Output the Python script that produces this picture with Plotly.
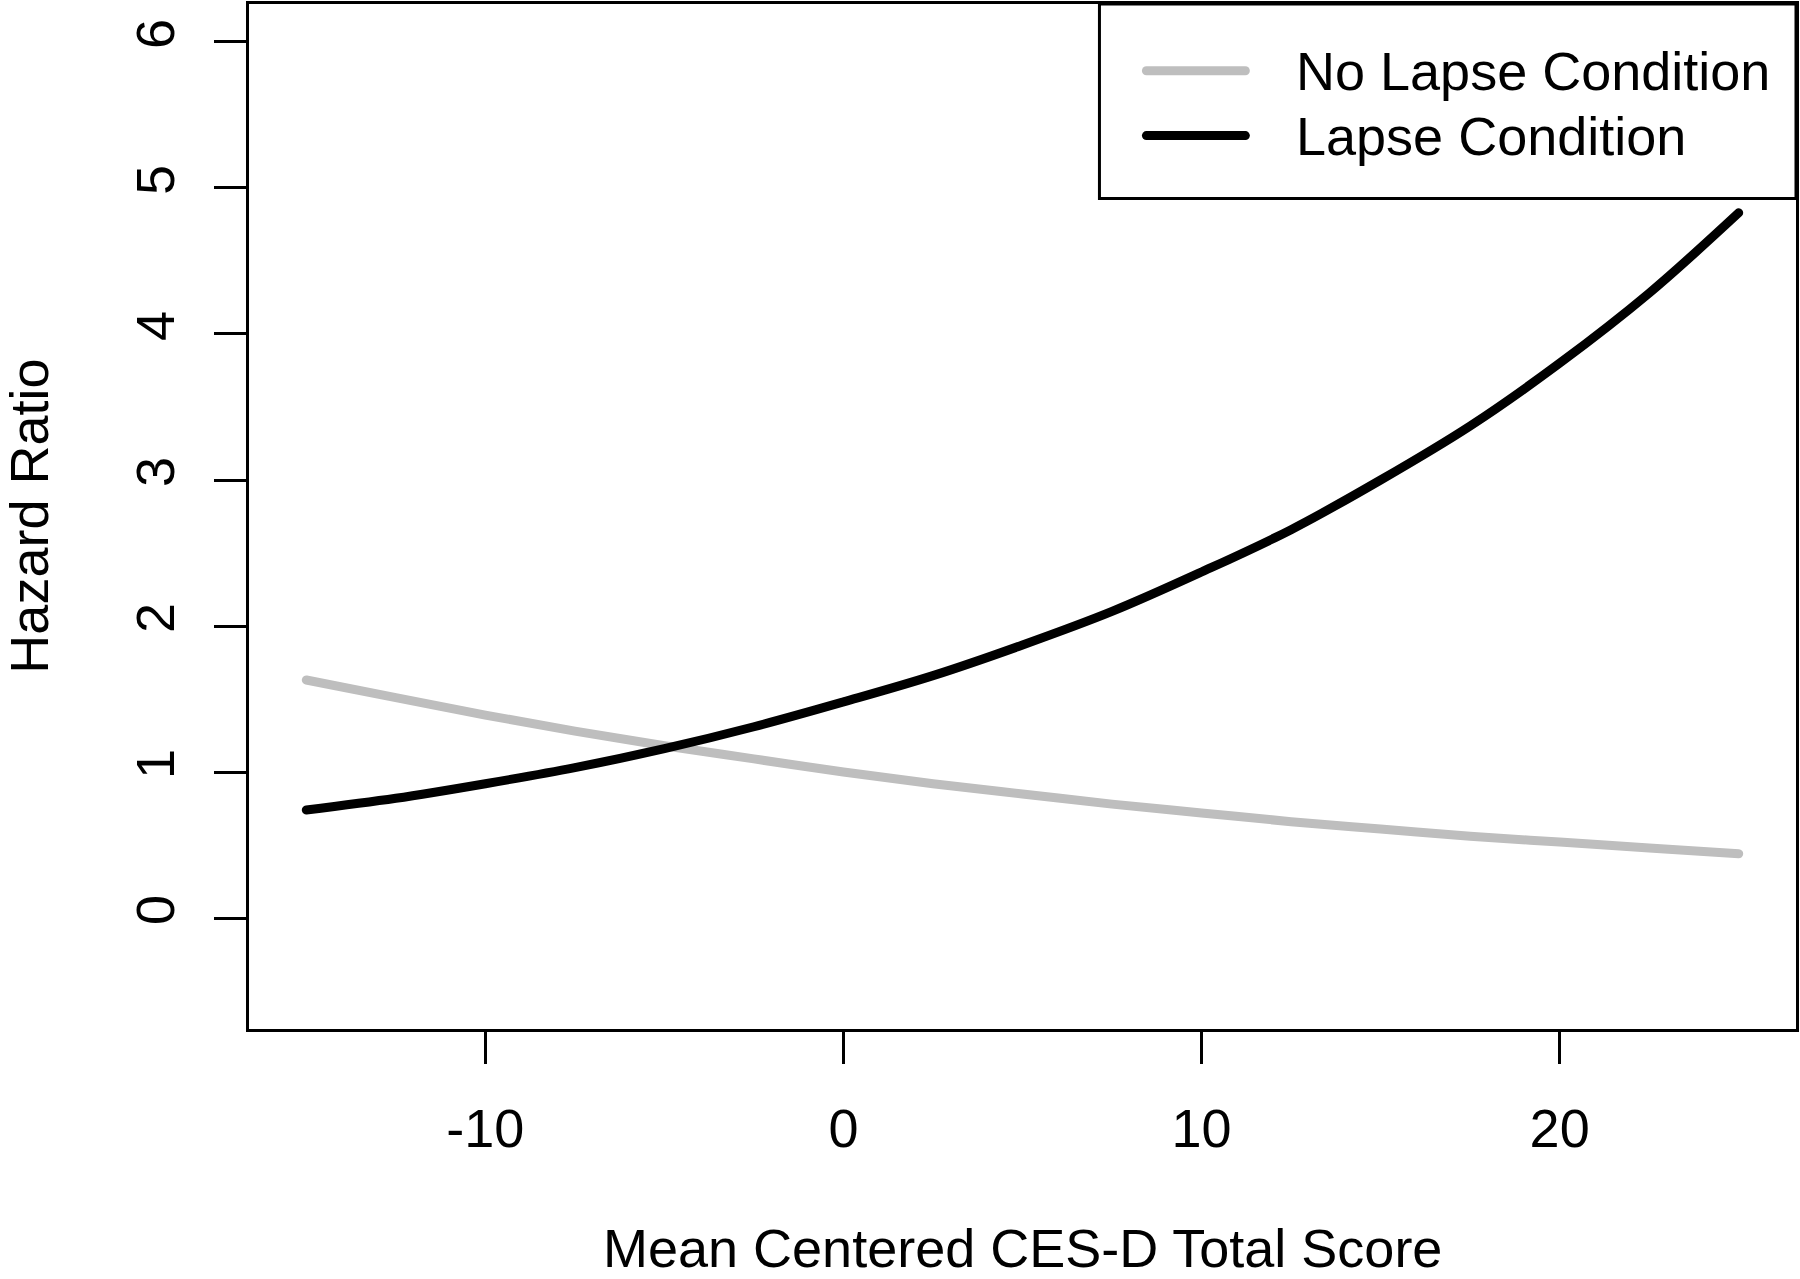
import plotly.graph_objects as go

# ---- data ----
cesd = [-15, -12.5, -10, -7.5, -5, -2.5, 0, 2.5, 5, 7.5, 10, 12.5, 15, 17.5, 20, 22.5, 25]
hr_no_lapse = [1.63, 1.51, 1.39, 1.28, 1.18, 1.09, 1.00, 0.92, 0.85, 0.78, 0.72, 0.66, 0.61, 0.56, 0.52, 0.48, 0.44]
hr_lapse = [0.74, 0.82, 0.92, 1.03, 1.16, 1.31, 1.48, 1.66, 1.87, 2.10, 2.37, 2.66, 3.00, 3.37, 3.80, 4.28, 4.83]
x_ticks = [-10, 0, 10, 20]
y_ticks = [0, 1, 2, 3, 4, 5, 6]
series_names = ["No Lapse Condition", "Lapse Condition"]
series_colors = ["#BEBEBE", "#000000"]

FONT = "Liberation Sans, Arial, sans-serif"
FS = 54

fig = go.Figure()
fig.add_trace(go.Scatter(x=cesd, y=hr_no_lapse, mode="lines", name=series_names[0],
                         line=dict(color=series_colors[0], width=9, shape="spline"), showlegend=False))
fig.add_trace(go.Scatter(x=cesd, y=hr_lapse, mode="lines", name=series_names[1],
                         line=dict(color=series_colors[1], width=9, shape="spline"), showlegend=False))

# plot area in pixels: left 249, right 1797, top 1, bottom 1029
L, R, T, B = 249, 1797, 1, 1029
W, H = 1800, 1279
pw, ph = R - L, B - T

def px(x):
    return (x - L) / pw

def py(y):
    return (B - y) / ph

fig.update_layout(
    width=W, height=H,
    margin=dict(l=L, r=W - R, t=T, b=H - B, pad=0),
    paper_bgcolor="white", plot_bgcolor="white",
    font=dict(family=FONT, size=FS, color="black"),
    showlegend=False,
)
fig.update_xaxes(range=[-16.6, 26.6], tickvals=x_ticks, ticktext=[str(v) for v in x_ticks],
                 showgrid=False, zeroline=False, showline=True, linecolor="black", linewidth=3,
                 mirror=True, ticks="outside", ticklen=32, tickwidth=3, tickcolor="black",
                 tickfont=dict(family=FONT, size=FS, color="black"), ticklabelstandoff=18)
fig.update_yaxes(range=[-0.76, 6.26], tickvals=y_ticks, ticktext=[str(v) for v in y_ticks],
                 showgrid=False, zeroline=False, showline=True, linecolor="black", linewidth=3,
                 mirror=True, ticks="outside", ticklen=32, tickwidth=3, tickcolor="black",
                 tickangle=-90,
                 tickfont=dict(family=FONT, size=FS, color="black"), ticklabelstandoff=18)

# axis titles
fig.add_annotation(text="Mean Centered CES-D Total Score", xref="paper", yref="paper",
                   x=0.5, y=py(1249), xanchor="center", yanchor="middle", showarrow=False,
                   font=dict(family=FONT, size=FS, color="black"))
fig.add_annotation(text="Hazard Ratio", xref="paper", yref="paper",
                   x=px(28), y=0.5, xanchor="center", yanchor="middle", showarrow=False,
                   textangle=-90, font=dict(family=FONT, size=FS, color="black"))

# legend (drawn like R's legend box)
fig.add_shape(type="rect", xref="paper", yref="paper", x0=px(1100), x1=1, y0=py(196), y1=1,
              line=dict(color="black", width=3), fillcolor="white", layer="above")
for i, (nm, col) in enumerate(zip(series_names, series_colors)):
    yy = [68, 133][i]
    fig.add_shape(type="line", xref="paper", yref="paper", x0=px(1147), x1=px(1246),
                  y0=py(yy), y1=py(yy), line=dict(color=col, width=9), layer="above")
    fig.add_annotation(text=nm, xref="paper", yref="paper", x=px(1295), y=py(yy),
                       xanchor="left", yanchor="middle", showarrow=False,
                       font=dict(family=FONT, size=FS, color="black"))

fig.write_html("out.html",
               config={"displayModeBar": False},
               post_script="document.body.style.margin='0';document.body.style.overflow='hidden';"
                           "document.querySelectorAll('.scatterlayer path.js-line, .shapelayer path')"
                           ".forEach(function(p){p.style.strokeLinecap='round';});")
